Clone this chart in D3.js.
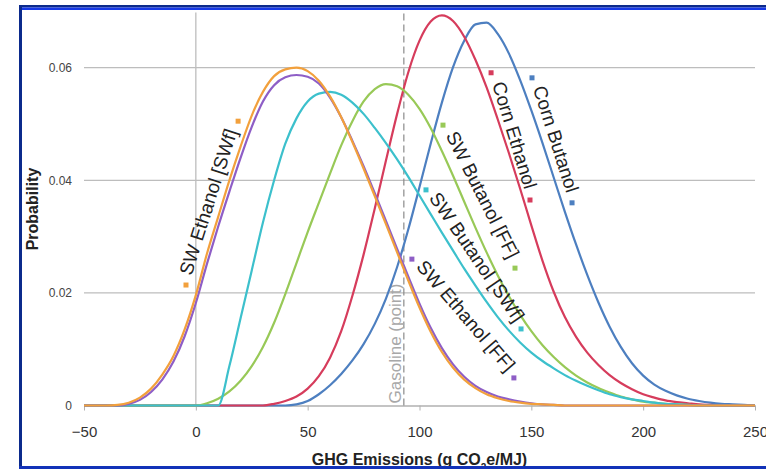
<!DOCTYPE html>
<html lang="en">
<head>
<meta charset="utf8">
<script type="text/javascript" src="https://cdn.jsdelivr.net/npm/d3@7/dist/d3.min.js"></script>
<title>GHG Emissions</title>
<style>
  body { margin: 0; background: #fff; }
  text { font-family: "Liberation Sans", Arial, sans-serif; }
</style>
</head>
<body>
<div id="chart"></div>
<script type="text/javascript">

  var width = 766, height = 469;

  // x grid shared by every series (g CO2e/MJ)
  var xGrid = d3.range(-50, 251, 5);

  var xTicks = [-50, 0, 50, 100, 150, 200, 250];
  var yTicks = [0, 0.02, 0.04, 0.06];
  var gasoline = 93;

  // probability values, one per xGrid point
  var swEthanolSWf = [0, 0, 0, 0.0001, 0.0005, 0.0014, 0.003, 0.0055, 0.0088, 0.0135,
    0.0196, 0.027, 0.0335, 0.040, 0.046, 0.0515, 0.0557, 0.0585, 0.0597, 0.060,
    0.0594, 0.0577, 0.0549, 0.0512, 0.0468, 0.0421, 0.0372, 0.0322, 0.0272, 0.0222,
    0.0174, 0.0131, 0.0095, 0.0067, 0.0046, 0.0031, 0.002, 0.0013, 0.0008, 0.0005,
    0.0003, 0.0002, 0.0001, 0, 0, 0, 0, 0, 0, 0, 0, 0, 0, 0, 0, 0, 0, 0, 0, 0, 0];
  var swEthanolFF = [0, 0, 0, 0, 0.0003, 0.001, 0.0024, 0.0046, 0.0078, 0.0123,
    0.0182, 0.0252, 0.0318, 0.038, 0.044, 0.0495, 0.054, 0.0569, 0.0583, 0.0587,
    0.0584, 0.0572, 0.0547, 0.0512, 0.047, 0.0425, 0.0377, 0.0328, 0.0278, 0.0229,
    0.0181, 0.0138, 0.0102, 0.0073, 0.0051, 0.0035, 0.0024, 0.0016, 0.0011, 0.0007,
    0.0004, 0.0002, 0.0001, 0, 0, 0, 0, 0, 0, 0, 0, 0, 0, 0, 0, 0, 0, 0, 0, 0, 0];
  var swButanolSWf = [0, 0, 0, 0, 0, 0, 0, 0, 0, 0,
    0, 0, 0, 0.007, 0.0155, 0.024, 0.0325, 0.040, 0.0465, 0.051,
    0.054, 0.0554, 0.0557, 0.0552, 0.0538, 0.0518, 0.0493, 0.0466, 0.0437, 0.0406,
    0.0373, 0.034, 0.0307, 0.0275, 0.0243, 0.0213, 0.0184, 0.0157, 0.0133, 0.0112,
    0.0094, 0.0079, 0.0066, 0.0054, 0.0044, 0.0035, 0.0027, 0.002, 0.0015, 0.0011,
    0.0008, 0.0005, 0.0003, 0.0002, 0.0001, 0, 0, 0, 0, 0, 0];
  var swButanolFF = [0, 0, 0, 0, 0, 0, 0, 0, 0, 0,
    0, 0.0004, 0.0012, 0.0025, 0.0044, 0.007, 0.0104, 0.0147, 0.0198, 0.0253,
    0.0308, 0.036, 0.0412, 0.0462, 0.0505, 0.054, 0.0562, 0.0571, 0.0567, 0.0552,
    0.0527, 0.0493, 0.0452, 0.0408, 0.0362, 0.0316, 0.0272, 0.0231, 0.0194, 0.0161,
    0.0132, 0.0107, 0.0086, 0.0068, 0.0053, 0.0041, 0.0031, 0.0023, 0.0016, 0.0011,
    0.0007, 0.0005, 0.0003, 0.0002, 0.0001, 0, 0, 0, 0, 0, 0];
  var cornEthanol = [0, 0, 0, 0, 0, 0, 0, 0, 0, 0,
    0, 0, 0, 0, 0, 0, 0, 0.0003, 0.0008, 0.0016,
    0.003, 0.0052, 0.0085, 0.0132, 0.0195, 0.0268, 0.035, 0.0435, 0.0518, 0.0592,
    0.0648, 0.0682, 0.0693, 0.0683, 0.0655, 0.0614, 0.0565, 0.0508, 0.0448, 0.0385,
    0.032, 0.0257, 0.0202, 0.0157, 0.0122, 0.0094, 0.0072, 0.0054, 0.004, 0.0029,
    0.002, 0.0014, 0.0009, 0.0006, 0.0004, 0.0002, 0.0001, 0, 0, 0, 0];
  var cornButanol = [0, 0, 0, 0, 0, 0, 0, 0, 0, 0,
    0, 0, 0, 0, 0, 0, 0, 0, 0, 0.0002,
    0.0008, 0.002, 0.0036, 0.0056, 0.008, 0.0109, 0.0145, 0.019, 0.0246, 0.0313,
    0.0388, 0.0465, 0.0538, 0.0601, 0.0648, 0.0677, 0.068, 0.066, 0.0625, 0.0578,
    0.0524, 0.0466, 0.0405, 0.0344, 0.0286, 0.0232, 0.0183, 0.014, 0.0104, 0.0075,
    0.0053, 0.0037, 0.0026, 0.0018, 0.0012, 0.0008, 0.0005, 0.0003, 0.0002, 0.0001, 0];

  // label texts and the two dots at their ends (data coordinates)
  var labelNames = ["SW Ethanol [SWf]", "SW Ethanol [FF]", "SW Butanol [SWf]",
    "SW Butanol [FF]", "Corn Ethanol", "Corn Butanol"];
  var labelStart = [[-4.4, 0.0214], [96.6, 0.026], [102.9, 0.0383],
    [110.5, 0.0498], [132, 0.0591], [150.3, 0.0582]];
  var labelEnd = [[18.9, 0.0505], [142.2, 0.0049], [145.4, 0.0136],
    [142.7, 0.0244], [149.4, 0.0365], [168.2, 0.036]];

  var colors = ["#f2a03c", "#8e5ec6", "#3cc0cc", "#98c957", "#d63c5c", "#4d7fc0"];
  var seriesList = [swEthanolSWf, swEthanolFF, swButanolSWf, swButanolFF, cornEthanol, cornButanol];
  var drawOrder = [5, 4, 3, 2, 1, 0]; // orange ends up on top

  var svg = d3.select("#chart").append("svg")
    .attr("width", width).attr("height", height);

  var x = d3.scaleLinear().domain([-50, 250]).range([84, 755]);
  var y = d3.scaleLinear().domain([0, 0.06]).range([405.5, 67.7]);

  // gridlines
  svg.append("g").selectAll("line")
    .data(yTicks.slice(1))
    .enter().append("line")
    .attr("x1", x(-50)).attr("x2", x(250))
    .attr("y1", function (d) { return y(d); })
    .attr("y2", function (d) { return y(d); })
    .attr("stroke", "#bdbdbd").attr("stroke-width", 1.3);

  svg.append("line")
    .attr("x1", x(0)).attr("x2", x(0))
    .attr("y1", y(0)).attr("y2", y(0.0698))
    .attr("stroke", "#bdbdbd").attr("stroke-width", 1.3);

  // x axis
  var xAxis = svg.append("g")
    .attr("transform", "translate(0," + y(0) + ")")
    .call(d3.axisBottom(x).tickValues(xTicks).tickSize(5).tickSizeOuter(0).tickPadding(16));
  xAxis.select(".domain").attr("stroke", "#b0b0b0").attr("stroke-width", 1.5);
  xAxis.selectAll(".tick line").attr("stroke", "#b0b0b0");
  xAxis.selectAll("text").attr("fill", "#333").style("font-size", "15px")
    .style("font-family", "'Liberation Sans', Arial, sans-serif");

  // y tick labels
  var yAxis = svg.append("g")
    .attr("transform", "translate(" + x(-50) + ",0)")
    .call(d3.axisLeft(y).tickValues(yTicks).tickSize(0).tickPadding(12)
      .tickFormat(function (d) { return d === 0 ? "0" : d3.format(".2f")(d); }));
  yAxis.select(".domain").remove();
  yAxis.selectAll("text").attr("fill", "#444").style("font-size", "12px")
    .style("font-family", "'Liberation Sans', Arial, sans-serif");

  // gasoline reference
  svg.append("line")
    .attr("x1", x(gasoline)).attr("x2", x(gasoline))
    .attr("y1", y(0)).attr("y2", y(0.0698))
    .attr("stroke", "#8a8a8a").attr("stroke-width", 1.2)
    .attr("stroke-dasharray", "7,4");
  svg.append("text")
    .attr("transform", "translate(" + (x(gasoline) - 3) + "," + (y(0) - 2) + ") rotate(-90)")
    .attr("fill", "#a8a8a8").style("font-size", "17px")
    .text("Gasoline (point)");

  // curves
  var line = d3.line()
    .x(function (d, i) { return x(xGrid[i]); })
    .y(function (d) { return y(d); })
    .curve(d3.curveMonotoneX);

  svg.append("g").selectAll("path")
    .data(drawOrder)
    .enter().append("path")
    .attr("d", function (k) { return line(seriesList[k]); })
    .attr("fill", "none")
    .attr("stroke", function (k) { return colors[k]; })
    .attr("stroke-width", 2.2);

  // curve labels with end dots
  var labels = svg.append("g");
  labelNames.forEach(function (name, i) {
    var p1 = [x(labelStart[i][0]), y(labelStart[i][1])];
    var p2 = [x(labelEnd[i][0]), y(labelEnd[i][1])];
    var ang = Math.atan2(p2[1] - p1[1], p2[0] - p1[0]) * 180 / Math.PI;
    [p1, p2].forEach(function (p) {
      labels.append("rect")
        .attr("x", p[0] - 2.5).attr("y", p[1] - 2.5)
        .attr("width", 5).attr("height", 5)
        .attr("fill", colors[i]);
    });
    labels.append("text")
      .attr("transform", "translate(" + (p1[0] + p2[0]) / 2 + "," + (p1[1] + p2[1]) / 2 + ") rotate(" + ang + ")")
      .attr("text-anchor", "middle")
      .attr("dominant-baseline", "central")
      .attr("dy", -4)
      .attr("fill", "#222")
      .style("font-size", "19px")
      .text(name);
  });

  // axis titles
  svg.append("text")
    .attr("x", (x(-50) + x(250)) / 2).attr("y", 465)
    .attr("text-anchor", "middle")
    .style("font-size", "16px").style("font-weight", "bold").attr("fill", "#222")
    .html("GHG Emissions (g CO<tspan baseline-shift='sub' style='font-size:10px'>2</tspan>e/MJ)");

  svg.append("text")
    .attr("transform", "translate(38," + (y(0) + y(0.0698)) / 2 + ") rotate(-90)")
    .attr("text-anchor", "middle")
    .style("font-size", "16px").style("font-weight", "bold").attr("fill", "#222")
    .text("Probability");

  // blue frame
  svg.append("rect").attr("x", 19).attr("y", 5).attr("width", 747).attr("height", 2.5).attr("fill", "#0b2a8c");
  svg.append("rect").attr("x", 19).attr("y", 7.5).attr("width", 747).attr("height", 2.5).attr("fill", "#1638e6");
  svg.append("rect").attr("x", 19).attr("y", 5).attr("width", 3).attr("height", 464).attr("fill", "#0b2a8c");
  svg.append("rect").attr("x", 19).attr("y", 466).attr("width", 747).attr("height", 3).attr("fill", "#1232b8");

</script>
</body>
</html>
